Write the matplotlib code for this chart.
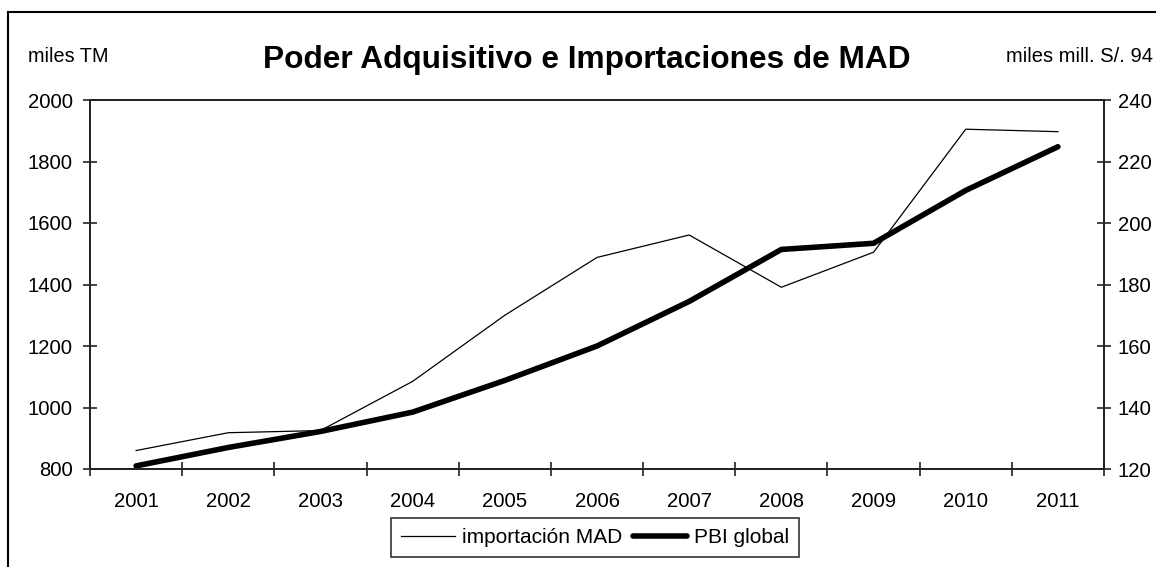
import matplotlib
matplotlib.use("Agg")
import matplotlib.pyplot as plt
from matplotlib.lines import Line2D

years = ["2001", "2002", "2003", "2004", "2005", "2006", "2007", "2008", "2009", "2010", "2011"]
importacion_mad = [860, 918, 925, 1085, 1300, 1488, 1561, 1391, 1505, 1905, 1897]
pbi_global = [121.0, 127.0, 132.2, 138.5, 148.8, 160.0, 174.5, 191.4, 193.4, 210.6, 224.8]

W, H = 1156, 567
plt.rcParams['font.family'] = ['Liberation Sans', 'DejaVu Sans']
fig = plt.figure(figsize=(W / 100, H / 100), dpi=100)

def fx(px):
    return px / W

def fy(py):
    return 1 - py / H

ax_l, ax_t, ax_r, ax_b = 90, 100, 1104, 469
ax = fig.add_axes([fx(ax_l), fy(ax_b), fx(ax_r - ax_l), (ax_b - ax_t) / H])
ax2 = ax.twinx()

x = list(range(len(years)))
l1, = ax.plot(x, importacion_mad, color='black', lw=0.9, label='importación MAD')
l2, = ax2.plot(x, pbi_global, color='black', lw=4.0, label='PBI global', solid_capstyle='round')

ax.set_xlim(-0.5, len(years) - 0.5)
ax.set_ylim(800, 2000)
ax.set_yticks(range(800, 2001, 200))
ax2.set_ylim(120, 240)
ax2.set_yticks(range(120, 241, 20))

ax.set_xticks([i - 0.5 for i in range(len(years) + 1)])
ax.set_xticklabels([])
ax.set_xticks(x, minor=True)
ax.set_xticklabels(years, minor=True)
fs = 14.6
ax.tick_params(axis='x', which='major', direction='inout', length=10, width=1.2, color='#222222')
ax.tick_params(axis='x', which='minor', length=0, pad=16.5, labelsize=fs)
ax.tick_params(axis='y', direction='inout', length=10, width=1.2, color='#222222', labelsize=fs, pad=7.5)
ax2.tick_params(axis='y', direction='inout', length=10, width=1.2, color='#222222', labelsize=fs, pad=5)

for a in (ax, ax2):
    for s in a.spines.values():
        s.set_linewidth(1.3)
        s.set_color('#222222')

fig.text(fx(28), fy(57), 'miles TM', fontsize=14.3, ha='left', va='center')
fig.text(fx(1153), fy(57), 'miles mill. S/. 94', fontsize=14.5, ha='right', va='center')
fig.text(fx(587), fy(60), 'Poder Adquisitivo e Importaciones de MAD', fontsize=22.8,
         fontweight='bold', ha='center', va='center')

leg = fig.legend(handles=[l1, l2], loc='center', bbox_to_anchor=(fx(595), fy(537.5)),
                 ncol=2, frameon=True, fancybox=False, edgecolor='black', fontsize=15,
                 handlelength=2.6, handletextpad=0.34, columnspacing=0.48,
                 borderpad=0.5, borderaxespad=0)
leg.get_frame().set_linewidth(1.2)

fig.add_artist(Line2D([fx(8), fx(8)], [fy(12), 0], transform=fig.transFigure, color='black', lw=1.5))
fig.add_artist(Line2D([fx(8), 1], [fy(12), fy(12)], transform=fig.transFigure, color='black', lw=1.5))

fig.savefig('out.png', dpi=100)
